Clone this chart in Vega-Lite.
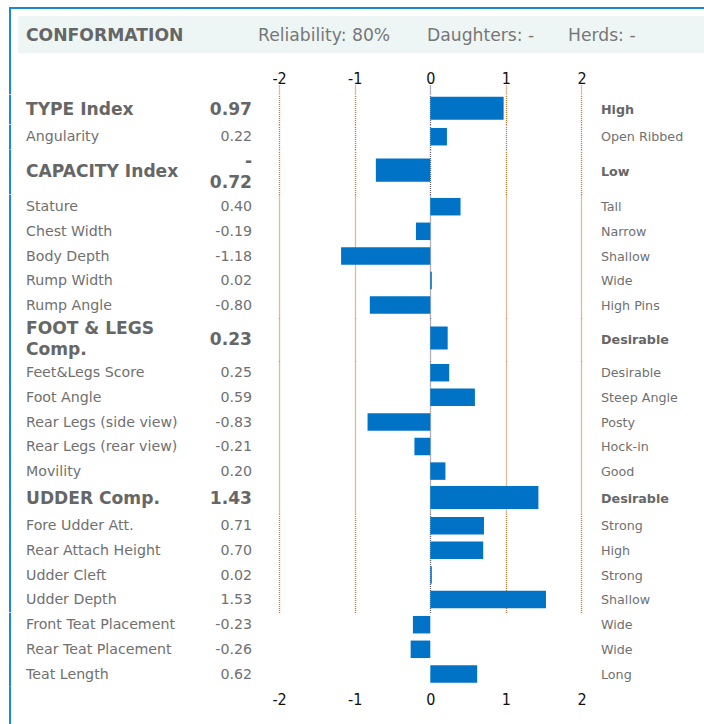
{
  "$schema": "https://vega.github.io/schema/vega-lite/v6.json",
  "padding": {"left": 8, "top": 7, "right": 0, "bottom": 0},
  "autosize": {"type": "pad"},
  "spacing": 0,
  "bounds": "flush",
  "config": {"view": {"stroke": null}, "font": "DejaVu Sans"},
  "datasets": {
    "rows": [
      {"trait": "TYPE Index", "value": 0.97, "shown": "0.97", "desc": "High"},
      {"trait": "Angularity", "value": 0.22, "shown": "0.22", "desc": "Open Ribbed"},
      {"trait": "CAPACITY Index", "value": -0.72, "shown": "-\n0.72", "desc": "Low"},
      {"trait": "Stature", "value": 0.40, "shown": "0.40", "desc": "Tall"},
      {"trait": "Chest Width", "value": -0.19, "shown": "-0.19", "desc": "Narrow"},
      {"trait": "Body Depth", "value": -1.18, "shown": "-1.18", "desc": "Shallow"},
      {"trait": "Rump Width", "value": 0.02, "shown": "0.02", "desc": "Wide"},
      {"trait": "Rump Angle", "value": -0.80, "shown": "-0.80", "desc": "High Pins"},
      {"trait": "FOOT & LEGS\nComp.", "value": 0.23, "shown": "0.23", "desc": "Desirable"},
      {"trait": "Feet&Legs Score", "value": 0.25, "shown": "0.25", "desc": "Desirable"},
      {"trait": "Foot Angle", "value": 0.59, "shown": "0.59", "desc": "Steep Angle"},
      {"trait": "Rear Legs (side view)", "value": -0.83, "shown": "-0.83", "desc": "Posty"},
      {"trait": "Rear Legs (rear view)", "value": -0.21, "shown": "-0.21", "desc": "Hock-in"},
      {"trait": "Movility", "value": 0.20, "shown": "0.20", "desc": "Good"},
      {"trait": "UDDER Comp.", "value": 1.43, "shown": "1.43", "desc": "Desirable"},
      {"trait": "Fore Udder Att.", "value": 0.71, "shown": "0.71", "desc": "Strong"},
      {"trait": "Rear Attach Height", "value": 0.70, "shown": "0.70", "desc": "High"},
      {"trait": "Udder Cleft", "value": 0.02, "shown": "0.02", "desc": "Strong"},
      {"trait": "Udder Depth", "value": 1.53, "shown": "1.53", "desc": "Shallow"},
      {"trait": "Front Teat Placement", "value": -0.23, "shown": "-0.23", "desc": "Wide"},
      {"trait": "Rear Teat Placement", "value": -0.26, "shown": "-0.26", "desc": "Wide"},
      {"trait": "Teat Length", "value": 0.62, "shown": "0.62", "desc": "Long"}
    ]
  },
  "vconcat": [
    {
      "width": 687, "height": 2,
      "data": {"values": [{}]},
      "mark": {"type": "rect", "color": "#1a8ad0"},
      "encoding": {
        "x": {"datum": -5.5728, "type": "quantitative", "scale": {"domain": [-5.4537, 3.6336], "nice": false, "zero": false}, "axis": null},
        "x2": {"datum": 3.6336}
      }
    },
    {
      "width": 687, "height": 7,
      "data": {"values": [{}]},
      "mark": {"type": "rule", "color": "#1a8ad0", "strokeWidth": 2},
      "encoding": {"x": {"datum": -5.5595, "type": "quantitative", "scale": {"domain": [-5.4537, 3.6336], "nice": false, "zero": false}, "axis": null}}
    },
    {
      "width": 687, "height": 37,
      "view": {"fill": "#eef6f5", "stroke": null},
      "layer": [
        {
          "data": {"values": [{}]},
          "mark": {"type": "rule", "color": "#1a8ad0", "strokeWidth": 2},
          "encoding": {"x": {"datum": -5.5595, "type": "quantitative", "scale": {"domain": [-5.4537, 3.6336], "nice": false, "zero": false}, "axis": null}}
        },
        {
          "data": {"values": [{"t": "CONFORMATION"}]},
          "mark": {"type": "text", "align": "left", "baseline": "middle", "dy": 1.5, "font": "DejaVu Sans", "fontSize": 17.2, "fontWeight": "bold", "color": "#666666"},
          "encoding": {"x": {"datum": -5.3479, "type": "quantitative", "scale": {"domain": [-5.4537, 3.6336], "nice": false, "zero": false}, "axis": null}, "text": {"field": "t"}}
        },
        {
          "data": {"values": [{"t": "Reliability: 80%"}]},
          "mark": {"type": "text", "align": "left", "baseline": "middle", "dy": 1.5, "font": "DejaVu Sans", "fontSize": 17.2, "color": "#777777"},
          "encoding": {"x": {"datum": -2.2791, "type": "quantitative", "scale": {"domain": [-5.4537, 3.6336], "nice": false, "zero": false}, "axis": null}, "text": {"field": "t"}}
        },
        {
          "data": {"values": [{"t": "Daughters: -"}]},
          "mark": {"type": "text", "align": "left", "baseline": "middle", "dy": 1.5, "font": "DejaVu Sans", "fontSize": 17.2, "color": "#777777"},
          "encoding": {"x": {"datum": -0.0437, "type": "quantitative", "scale": {"domain": [-5.4537, 3.6336], "nice": false, "zero": false}, "axis": null}, "text": {"field": "t"}}
        },
        {
          "data": {"values": [{"t": "Herds: -"}]},
          "mark": {"type": "text", "align": "left", "baseline": "middle", "dy": 1.5, "font": "DejaVu Sans", "fontSize": 17.2, "color": "#777777"},
          "encoding": {"x": {"datum": 1.8214, "type": "quantitative", "scale": {"domain": [-5.4537, 3.6336], "nice": false, "zero": false}, "axis": null}, "text": {"field": "t"}}
        }
      ]
    },
    {
      "width": 687, "height": 32,
      "data": {"values": [{}]},
      "mark": {"type": "rule", "color": "#1a8ad0", "strokeWidth": 2},
      "encoding": {"x": {"datum": -5.5595, "type": "quantitative", "scale": {"domain": [-5.4537, 3.6336], "nice": false, "zero": false}, "axis": null}}
    },
    {
      "width": 687, "height": 9.3,
      "data": {"values": [{}]},
      "mark": {"type": "rule", "color": "#1a8ad0", "strokeWidth": 2},
      "encoding": {"x": {"datum": -5.5595, "type": "quantitative", "scale": {"domain": [-5.4537, 3.6336], "nice": false, "zero": false},
        "axis": {"orient": "top", "grid": true, "values": [-2, -1, 0, 1, 2], "ticks": false, "tickSize": 0, "domain": false, "title": null, "gridDash": [1, 1], "gridWidth": 1.3, "gridColor": {"condition": {"test": "datum.value === 0", "value": "#5f6470"}, "value": "#c27636"}, "labels": true, "labelExpr": "datum.value < 0 ? '-' + abs(datum.value) : '' + datum.value", "labelPadding": 7, "labelBaseline": "middle", "labelFont": "Liberation Sans Narrow, DejaVu Sans Condensed, Liberation Sans, sans-serif", "labelFontSize": 16, "labelColor": "#111111"}}}
    },
    {
      "width": 687, "height": 29.4,
      "layer": [
        {"data": {"values": [{}]}, "mark": {"type": "rule", "color": "#1a8ad0", "strokeWidth": 2},
         "encoding": {"x": {"datum": -5.5595, "type": "quantitative", "scale": {"domain": [-5.4537, 3.6336], "nice": false, "zero": false},
           "axis": {"grid": true, "values": [-2, -1, 0, 1, 2], "labels": false, "ticks": false, "domain": false, "title": null, "gridDash": [1, 1], "gridWidth": 1.3, "gridColor": {"condition": {"test": "datum.value === 0", "value": "#5f6470"}, "value": "#c27636"}}}}},
        {"data": {"name": "rows"}, "transform": [{"filter": {"field": "trait", "oneOf": ["TYPE Index"]}}],
         "layer": [
          {"mark": {"type": "bar", "color": "#0073c6", "height": 23, "yOffset": -1.5},
           "encoding": {"y": {"field": "trait", "type": "nominal", "sort": null, "axis": null, "scale": {"paddingInner": 0, "paddingOuter": 0}}, "x": {"field": "value", "type": "quantitative", "scale": {"domain": [-5.4537, 3.6336], "nice": false, "zero": false}}, "x2": {"datum": 0}}},
          {"mark": {"type": "text", "align": "left", "baseline": "middle", "font": "DejaVu Sans", "fontSize": 17.1, "fontWeight": "bold", "color": "#666666"},
           "encoding": {"y": {"field": "trait", "type": "nominal", "sort": null, "axis": null}, "x": {"datum": -5.3479, "type": "quantitative", "scale": {"domain": [-5.4537, 3.6336], "nice": false, "zero": false}}, "text": {"field": "trait"}}},
          {"mark": {"type": "text", "align": "right", "baseline": "middle", "font": "DejaVu Sans", "fontSize": 17.1, "fontWeight": "bold", "color": "#666666"},
           "encoding": {"y": {"field": "trait", "type": "nominal", "sort": null, "axis": null}, "x": {"datum": -2.3585, "type": "quantitative", "scale": {"domain": [-5.4537, 3.6336], "nice": false, "zero": false}}, "text": {"field": "shown"}}},
          {"mark": {"type": "text", "align": "left", "baseline": "middle", "font": "DejaVu Sans", "fontSize": 12.7, "fontWeight": "bold", "color": "#666666"},
           "encoding": {"y": {"field": "trait", "type": "nominal", "sort": null, "axis": null}, "x": {"datum": 2.2579, "type": "quantitative", "scale": {"domain": [-5.4537, 3.6336], "nice": false, "zero": false}}, "text": {"field": "desc"}}}
         ]}
      ]
    },
    {
      "width": 687, "height": 24.6,
      "layer": [
        {"data": {"values": [{}]}, "mark": {"type": "rule", "color": "#1a8ad0", "strokeWidth": 2},
         "encoding": {"x": {"datum": -5.5595, "type": "quantitative", "scale": {"domain": [-5.4537, 3.6336], "nice": false, "zero": false},
           "axis": {"grid": true, "values": [-2, -1, 0, 1, 2], "labels": false, "ticks": false, "domain": false, "title": null, "gridDash": [1, 1], "gridWidth": 1.3, "gridColor": {"condition": {"test": "datum.value === 0", "value": "#5f6470"}, "value": "#c27636"}}}}},
        {"data": {"name": "rows"}, "transform": [{"filter": {"field": "trait", "oneOf": ["Angularity"]}}],
         "layer": [
          {"mark": {"type": "bar", "color": "#0073c6", "height": 17.5, "yOffset": -0.6},
           "encoding": {"y": {"field": "trait", "type": "nominal", "sort": null, "axis": null, "scale": {"paddingInner": 0, "paddingOuter": 0}}, "x": {"field": "value", "type": "quantitative", "scale": {"domain": [-5.4537, 3.6336], "nice": false, "zero": false}}, "x2": {"datum": 0}}},
          {"mark": {"type": "text", "align": "left", "baseline": "middle", "font": "DejaVu Sans", "fontSize": 14.2, "color": "#707070"},
           "encoding": {"y": {"field": "trait", "type": "nominal", "sort": null, "axis": null}, "x": {"datum": -5.3479, "type": "quantitative", "scale": {"domain": [-5.4537, 3.6336], "nice": false, "zero": false}}, "text": {"field": "trait"}}},
          {"mark": {"type": "text", "align": "right", "baseline": "middle", "font": "DejaVu Sans", "fontSize": 14.2, "color": "#707070"},
           "encoding": {"y": {"field": "trait", "type": "nominal", "sort": null, "axis": null}, "x": {"datum": -2.3585, "type": "quantitative", "scale": {"domain": [-5.4537, 3.6336], "nice": false, "zero": false}}, "text": {"field": "shown"}}},
          {"mark": {"type": "text", "align": "left", "baseline": "middle", "font": "DejaVu Sans", "fontSize": 12.7, "color": "#707070"},
           "encoding": {"y": {"field": "trait", "type": "nominal", "sort": null, "axis": null}, "x": {"datum": 2.2579, "type": "quantitative", "scale": {"domain": [-5.4537, 3.6336], "nice": false, "zero": false}}, "text": {"field": "desc"}}}
         ]}
      ]
    },
    {
      "width": 687, "height": 44.4,
      "layer": [
        {"data": {"values": [{}]}, "mark": {"type": "rule", "color": "#1a8ad0", "strokeWidth": 2},
         "encoding": {"x": {"datum": -5.5595, "type": "quantitative", "scale": {"domain": [-5.4537, 3.6336], "nice": false, "zero": false},
           "axis": {"grid": true, "values": [-2, -1, 0, 1, 2], "labels": false, "ticks": false, "domain": false, "title": null, "gridDash": [1, 1], "gridWidth": 1.3, "gridColor": {"condition": {"test": "datum.value === 0", "value": "#5f6470"}, "value": "#c27636"}}}}},
        {"data": {"name": "rows"}, "transform": [{"filter": {"field": "trait", "oneOf": ["CAPACITY Index"]}}],
         "layer": [
          {"mark": {"type": "bar", "color": "#0073c6", "height": 23.3, "yOffset": -2},
           "encoding": {"y": {"field": "trait", "type": "nominal", "sort": null, "axis": null, "scale": {"paddingInner": 0, "paddingOuter": 0}}, "x": {"field": "value", "type": "quantitative", "scale": {"domain": [-5.4537, 3.6336], "nice": false, "zero": false}}, "x2": {"datum": 0}}},
          {"mark": {"type": "text", "align": "left", "baseline": "middle", "font": "DejaVu Sans", "fontSize": 17.1, "fontWeight": "bold", "color": "#666666"},
           "encoding": {"y": {"field": "trait", "type": "nominal", "sort": null, "axis": null}, "x": {"datum": -5.3479, "type": "quantitative", "scale": {"domain": [-5.4537, 3.6336], "nice": false, "zero": false}}, "text": {"field": "trait"}}},
          {"mark": {"type": "text", "align": "right", "baseline": "middle", "font": "DejaVu Sans", "fontSize": 17.1, "fontWeight": "bold", "color": "#666666", "lineBreak": "\n", "lineHeight": 21, "dy": -10.5},
           "encoding": {"y": {"field": "trait", "type": "nominal", "sort": null, "axis": null}, "x": {"datum": -2.3585, "type": "quantitative", "scale": {"domain": [-5.4537, 3.6336], "nice": false, "zero": false}}, "text": {"field": "shown"}}},
          {"mark": {"type": "text", "align": "left", "baseline": "middle", "font": "DejaVu Sans", "fontSize": 12.7, "fontWeight": "bold", "color": "#666666"},
           "encoding": {"y": {"field": "trait", "type": "nominal", "sort": null, "axis": null}, "x": {"datum": 2.2579, "type": "quantitative", "scale": {"domain": [-5.4537, 3.6336], "nice": false, "zero": false}}, "text": {"field": "desc"}}}
         ]}
      ]
    },
    {
      "width": 687, "height": 123,
      "layer": [
        {"data": {"values": [{}]}, "mark": {"type": "rule", "color": "#1a8ad0", "strokeWidth": 2},
         "encoding": {"x": {"datum": -5.5595, "type": "quantitative", "scale": {"domain": [-5.4537, 3.6336], "nice": false, "zero": false},
           "axis": {"grid": true, "values": [-2, -1, 0, 1, 2], "labels": false, "ticks": false, "domain": false, "title": null, "gridDash": [1, 1], "gridWidth": 1.3, "gridColor": {"condition": {"test": "datum.value === 0", "value": "#5f6470"}, "value": "#c27636"}}}}},
        {"data": {"name": "rows"}, "transform": [{"filter": {"field": "trait", "oneOf": ["Stature", "Chest Width", "Body Depth", "Rump Width", "Rump Angle"]}}],
         "layer": [
          {"mark": {"type": "bar", "color": "#0073c6", "height": 17.5, "yOffset": -0.6},
           "encoding": {"y": {"field": "trait", "type": "nominal", "sort": null, "axis": null, "scale": {"paddingInner": 0, "paddingOuter": 0}}, "x": {"field": "value", "type": "quantitative", "scale": {"domain": [-5.4537, 3.6336], "nice": false, "zero": false}}, "x2": {"datum": 0}}},
          {"mark": {"type": "text", "align": "left", "baseline": "middle", "font": "DejaVu Sans", "fontSize": 14.2, "color": "#707070"},
           "encoding": {"y": {"field": "trait", "type": "nominal", "sort": null, "axis": null}, "x": {"datum": -5.3479, "type": "quantitative", "scale": {"domain": [-5.4537, 3.6336], "nice": false, "zero": false}}, "text": {"field": "trait"}}},
          {"mark": {"type": "text", "align": "right", "baseline": "middle", "font": "DejaVu Sans", "fontSize": 14.2, "color": "#707070"},
           "encoding": {"y": {"field": "trait", "type": "nominal", "sort": null, "axis": null}, "x": {"datum": -2.3585, "type": "quantitative", "scale": {"domain": [-5.4537, 3.6336], "nice": false, "zero": false}}, "text": {"field": "shown"}}},
          {"mark": {"type": "text", "align": "left", "baseline": "middle", "font": "DejaVu Sans", "fontSize": 12.7, "color": "#707070"},
           "encoding": {"y": {"field": "trait", "type": "nominal", "sort": null, "axis": null}, "x": {"datum": 2.2579, "type": "quantitative", "scale": {"domain": [-5.4537, 3.6336], "nice": false, "zero": false}}, "text": {"field": "desc"}}}
         ]}
      ]
    },
    {
      "width": 687, "height": 43,
      "layer": [
        {"data": {"values": [{}]}, "mark": {"type": "rule", "color": "#1a8ad0", "strokeWidth": 2},
         "encoding": {"x": {"datum": -5.5595, "type": "quantitative", "scale": {"domain": [-5.4537, 3.6336], "nice": false, "zero": false},
           "axis": {"grid": true, "values": [-2, -1, 0, 1, 2], "labels": false, "ticks": false, "domain": false, "title": null, "gridDash": [1, 1], "gridWidth": 1.3, "gridColor": {"condition": {"test": "datum.value === 0", "value": "#5f6470"}, "value": "#c27636"}}}}},
        {"data": {"name": "rows"}, "transform": [{"filter": {"field": "trait", "oneOf": ["FOOT & LEGS\nComp."]}}],
         "layer": [
          {"mark": {"type": "bar", "color": "#0073c6", "height": 23, "yOffset": -1.5},
           "encoding": {"y": {"field": "trait", "type": "nominal", "sort": null, "axis": null, "scale": {"paddingInner": 0, "paddingOuter": 0}}, "x": {"field": "value", "type": "quantitative", "scale": {"domain": [-5.4537, 3.6336], "nice": false, "zero": false}}, "x2": {"datum": 0}}},
          {"mark": {"type": "text", "align": "left", "baseline": "middle", "font": "DejaVu Sans", "fontSize": 17.1, "fontWeight": "bold", "color": "#666666", "lineBreak": "\n", "lineHeight": 21, "dy": -10.5},
           "encoding": {"y": {"field": "trait", "type": "nominal", "sort": null, "axis": null}, "x": {"datum": -5.3479, "type": "quantitative", "scale": {"domain": [-5.4537, 3.6336], "nice": false, "zero": false}}, "text": {"field": "trait"}}},
          {"mark": {"type": "text", "align": "right", "baseline": "middle", "font": "DejaVu Sans", "fontSize": 17.1, "fontWeight": "bold", "color": "#666666"},
           "encoding": {"y": {"field": "trait", "type": "nominal", "sort": null, "axis": null}, "x": {"datum": -2.3585, "type": "quantitative", "scale": {"domain": [-5.4537, 3.6336], "nice": false, "zero": false}}, "text": {"field": "shown"}}},
          {"mark": {"type": "text", "align": "left", "baseline": "middle", "font": "DejaVu Sans", "fontSize": 12.7, "fontWeight": "bold", "color": "#666666"},
           "encoding": {"y": {"field": "trait", "type": "nominal", "sort": null, "axis": null}, "x": {"datum": 2.2579, "type": "quantitative", "scale": {"domain": [-5.4537, 3.6336], "nice": false, "zero": false}}, "text": {"field": "desc"}}}
         ]}
      ]
    },
    {
      "width": 687, "height": 123,
      "layer": [
        {"data": {"values": [{}]}, "mark": {"type": "rule", "color": "#1a8ad0", "strokeWidth": 2},
         "encoding": {"x": {"datum": -5.5595, "type": "quantitative", "scale": {"domain": [-5.4537, 3.6336], "nice": false, "zero": false},
           "axis": {"grid": true, "values": [-2, -1, 0, 1, 2], "labels": false, "ticks": false, "domain": false, "title": null, "gridDash": [1, 1], "gridWidth": 1.3, "gridColor": {"condition": {"test": "datum.value === 0", "value": "#5f6470"}, "value": "#c27636"}}}}},
        {"data": {"name": "rows"}, "transform": [{"filter": {"field": "trait", "oneOf": ["Feet&Legs Score", "Foot Angle", "Rear Legs (side view)", "Rear Legs (rear view)", "Movility"]}}],
         "layer": [
          {"mark": {"type": "bar", "color": "#0073c6", "height": 17.5, "yOffset": -0.6},
           "encoding": {"y": {"field": "trait", "type": "nominal", "sort": null, "axis": null, "scale": {"paddingInner": 0, "paddingOuter": 0}}, "x": {"field": "value", "type": "quantitative", "scale": {"domain": [-5.4537, 3.6336], "nice": false, "zero": false}}, "x2": {"datum": 0}}},
          {"mark": {"type": "text", "align": "left", "baseline": "middle", "font": "DejaVu Sans", "fontSize": 14.2, "color": "#707070"},
           "encoding": {"y": {"field": "trait", "type": "nominal", "sort": null, "axis": null}, "x": {"datum": -5.3479, "type": "quantitative", "scale": {"domain": [-5.4537, 3.6336], "nice": false, "zero": false}}, "text": {"field": "trait"}}},
          {"mark": {"type": "text", "align": "right", "baseline": "middle", "font": "DejaVu Sans", "fontSize": 14.2, "color": "#707070"},
           "encoding": {"y": {"field": "trait", "type": "nominal", "sort": null, "axis": null}, "x": {"datum": -2.3585, "type": "quantitative", "scale": {"domain": [-5.4537, 3.6336], "nice": false, "zero": false}}, "text": {"field": "shown"}}},
          {"mark": {"type": "text", "align": "left", "baseline": "middle", "font": "DejaVu Sans", "fontSize": 12.7, "color": "#707070"},
           "encoding": {"y": {"field": "trait", "type": "nominal", "sort": null, "axis": null}, "x": {"datum": 2.2579, "type": "quantitative", "scale": {"domain": [-5.4537, 3.6336], "nice": false, "zero": false}}, "text": {"field": "desc"}}}
         ]}
      ]
    },
    {
      "width": 687, "height": 30,
      "layer": [
        {"data": {"values": [{}]}, "mark": {"type": "rule", "color": "#1a8ad0", "strokeWidth": 2},
         "encoding": {"x": {"datum": -5.5595, "type": "quantitative", "scale": {"domain": [-5.4537, 3.6336], "nice": false, "zero": false},
           "axis": {"grid": true, "values": [-2, -1, 0, 1, 2], "labels": false, "ticks": false, "domain": false, "title": null, "gridDash": [1, 1], "gridWidth": 1.3, "gridColor": {"condition": {"test": "datum.value === 0", "value": "#5f6470"}, "value": "#c27636"}}}}},
        {"data": {"name": "rows"}, "transform": [{"filter": {"field": "trait", "oneOf": ["UDDER Comp."]}}],
         "layer": [
          {"mark": {"type": "bar", "color": "#0073c6", "height": 23, "yOffset": -1.5},
           "encoding": {"y": {"field": "trait", "type": "nominal", "sort": null, "axis": null, "scale": {"paddingInner": 0, "paddingOuter": 0}}, "x": {"field": "value", "type": "quantitative", "scale": {"domain": [-5.4537, 3.6336], "nice": false, "zero": false}}, "x2": {"datum": 0}}},
          {"mark": {"type": "text", "align": "left", "baseline": "middle", "font": "DejaVu Sans", "fontSize": 17.1, "fontWeight": "bold", "color": "#666666"},
           "encoding": {"y": {"field": "trait", "type": "nominal", "sort": null, "axis": null}, "x": {"datum": -5.3479, "type": "quantitative", "scale": {"domain": [-5.4537, 3.6336], "nice": false, "zero": false}}, "text": {"field": "trait"}}},
          {"mark": {"type": "text", "align": "right", "baseline": "middle", "font": "DejaVu Sans", "fontSize": 17.1, "fontWeight": "bold", "color": "#666666"},
           "encoding": {"y": {"field": "trait", "type": "nominal", "sort": null, "axis": null}, "x": {"datum": -2.3585, "type": "quantitative", "scale": {"domain": [-5.4537, 3.6336], "nice": false, "zero": false}}, "text": {"field": "shown"}}},
          {"mark": {"type": "text", "align": "left", "baseline": "middle", "font": "DejaVu Sans", "fontSize": 12.7, "fontWeight": "bold", "color": "#666666"},
           "encoding": {"y": {"field": "trait", "type": "nominal", "sort": null, "axis": null}, "x": {"datum": 2.2579, "type": "quantitative", "scale": {"domain": [-5.4537, 3.6336], "nice": false, "zero": false}}, "text": {"field": "desc"}}}
         ]}
      ]
    },
    {
      "width": 687, "height": 98.4,
      "layer": [
        {"data": {"values": [{}]}, "mark": {"type": "rule", "color": "#1a8ad0", "strokeWidth": 2},
         "encoding": {"x": {"datum": -5.5595, "type": "quantitative", "scale": {"domain": [-5.4537, 3.6336], "nice": false, "zero": false},
           "axis": {"grid": true, "values": [-2, -1, 0, 1, 2], "labels": false, "ticks": false, "domain": false, "title": null, "gridDash": [1, 1], "gridWidth": 1.3, "gridColor": {"condition": {"test": "datum.value === 0", "value": "#5f6470"}, "value": "#c27636"}}}}},
        {"data": {"name": "rows"}, "transform": [{"filter": {"field": "trait", "oneOf": ["Fore Udder Att.", "Rear Attach Height", "Udder Cleft", "Udder Depth"]}}],
         "layer": [
          {"mark": {"type": "bar", "color": "#0073c6", "height": 17.5, "yOffset": -0.6},
           "encoding": {"y": {"field": "trait", "type": "nominal", "sort": null, "axis": null, "scale": {"paddingInner": 0, "paddingOuter": 0}}, "x": {"field": "value", "type": "quantitative", "scale": {"domain": [-5.4537, 3.6336], "nice": false, "zero": false}}, "x2": {"datum": 0}}},
          {"mark": {"type": "text", "align": "left", "baseline": "middle", "font": "DejaVu Sans", "fontSize": 14.2, "color": "#707070"},
           "encoding": {"y": {"field": "trait", "type": "nominal", "sort": null, "axis": null}, "x": {"datum": -5.3479, "type": "quantitative", "scale": {"domain": [-5.4537, 3.6336], "nice": false, "zero": false}}, "text": {"field": "trait"}}},
          {"mark": {"type": "text", "align": "right", "baseline": "middle", "font": "DejaVu Sans", "fontSize": 14.2, "color": "#707070"},
           "encoding": {"y": {"field": "trait", "type": "nominal", "sort": null, "axis": null}, "x": {"datum": -2.3585, "type": "quantitative", "scale": {"domain": [-5.4537, 3.6336], "nice": false, "zero": false}}, "text": {"field": "shown"}}},
          {"mark": {"type": "text", "align": "left", "baseline": "middle", "font": "DejaVu Sans", "fontSize": 12.7, "color": "#707070"},
           "encoding": {"y": {"field": "trait", "type": "nominal", "sort": null, "axis": null}, "x": {"datum": 2.2579, "type": "quantitative", "scale": {"domain": [-5.4537, 3.6336], "nice": false, "zero": false}}, "text": {"field": "desc"}}}
         ]}
      ]
    },
    {
      "width": 687, "height": 73.8,
      "layer": [
        {"data": {"values": [{}]}, "mark": {"type": "rule", "color": "#1a8ad0", "strokeWidth": 2},
         "encoding": {"x": {"datum": -5.5595, "type": "quantitative", "scale": {"domain": [-5.4537, 3.6336], "nice": false, "zero": false},
           "axis": {"orient": "bottom", "grid": false, "values": [-2, -1, 0, 1, 2], "ticks": false, "tickSize": 0, "domain": false, "title": null, "labels": true, "labelExpr": "datum.value < 0 ? '-' + abs(datum.value) : '' + datum.value", "labelPadding": 13, "labelBaseline": "middle", "labelFont": "Liberation Sans Narrow, DejaVu Sans Condensed, Liberation Sans, sans-serif", "labelFontSize": 16, "labelColor": "#111111"}}}},
        {"data": {"name": "rows"}, "transform": [{"filter": {"field": "trait", "oneOf": ["Front Teat Placement", "Rear Teat Placement", "Teat Length"]}}],
         "layer": [
          {"mark": {"type": "bar", "color": "#0073c6", "height": 17.5, "yOffset": -0.6},
           "encoding": {"y": {"field": "trait", "type": "nominal", "sort": null, "axis": null, "scale": {"paddingInner": 0, "paddingOuter": 0}}, "x": {"field": "value", "type": "quantitative", "scale": {"domain": [-5.4537, 3.6336], "nice": false, "zero": false}}, "x2": {"datum": 0}}},
          {"mark": {"type": "text", "align": "left", "baseline": "middle", "font": "DejaVu Sans", "fontSize": 14.2, "color": "#707070"},
           "encoding": {"y": {"field": "trait", "type": "nominal", "sort": null, "axis": null}, "x": {"datum": -5.3479, "type": "quantitative", "scale": {"domain": [-5.4537, 3.6336], "nice": false, "zero": false}}, "text": {"field": "trait"}}},
          {"mark": {"type": "text", "align": "right", "baseline": "middle", "font": "DejaVu Sans", "fontSize": 14.2, "color": "#707070"},
           "encoding": {"y": {"field": "trait", "type": "nominal", "sort": null, "axis": null}, "x": {"datum": -2.3585, "type": "quantitative", "scale": {"domain": [-5.4537, 3.6336], "nice": false, "zero": false}}, "text": {"field": "shown"}}},
          {"mark": {"type": "text", "align": "left", "baseline": "middle", "font": "DejaVu Sans", "fontSize": 12.7, "color": "#707070"},
           "encoding": {"y": {"field": "trait", "type": "nominal", "sort": null, "axis": null}, "x": {"datum": 2.2579, "type": "quantitative", "scale": {"domain": [-5.4537, 3.6336], "nice": false, "zero": false}}, "text": {"field": "desc"}}}
         ]}
      ]
    },
    {
      "width": 687, "height": 39.1,
      "data": {"values": [{}]},
      "mark": {"type": "rule", "color": "#1a8ad0", "strokeWidth": 2},
      "encoding": {"x": {"datum": -5.5595, "type": "quantitative", "scale": {"domain": [-5.4537, 3.6336], "nice": false, "zero": false}, "axis": null}}
    }
  ]
}
